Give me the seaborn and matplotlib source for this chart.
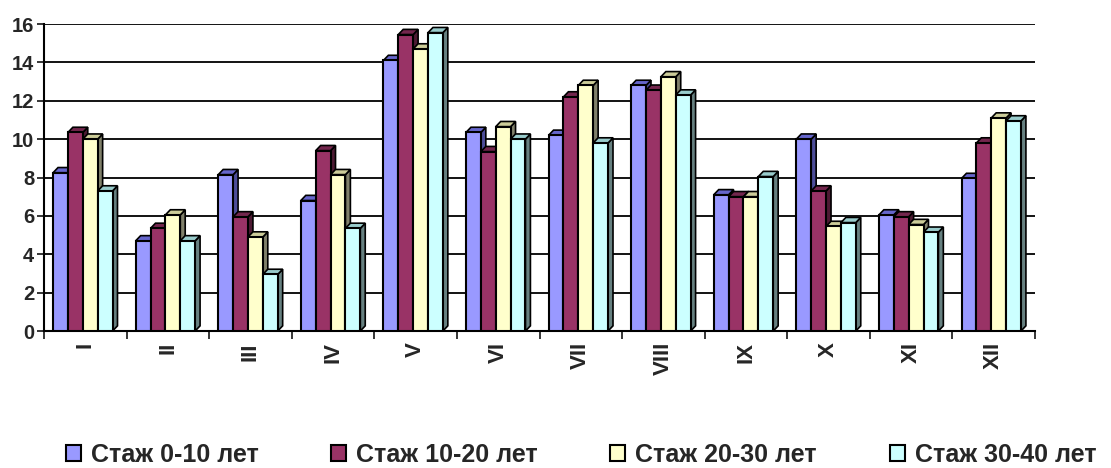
import seaborn as sns
import matplotlib.pyplot as plt
import pandas as pd
from matplotlib.patches import Polygon

# months (roman numerals) and work-experience groups
months = ['I', 'II', 'III', 'IV', 'V', 'VI', 'VII', 'VIII', 'IX', 'X', 'XI', 'XII']
series = ['Стаж 0-10 лет', 'Стаж 10-20 лет', 'Стаж 20-30 лет', 'Стаж 30-40 лет']

s0_10 = [8.25, 4.7, 8.15, 6.8, 14.1, 10.35, 10.2, 12.8, 7.1, 10.0, 6.05, 7.95]
s10_20 = [10.35, 5.35, 5.95, 9.4, 15.45, 9.35, 12.2, 12.55, 7.0, 7.3, 5.95, 9.8]
s20_30 = [10.0, 6.05, 4.9, 8.15, 14.7, 10.65, 12.8, 13.25, 7.0, 5.45, 5.55, 11.1]
s30_40 = [7.3, 4.7, 2.95, 5.35, 15.55, 10.0, 9.8, 12.3, 8.05, 5.65, 5.15, 10.95]

colors = ['#9999FF', '#993366', '#FFFFCC', '#CCFFFF']
side_colors = ['#4D4D99', '#4D1A33', '#80806A', '#668080']
top_colors = ['#6666CC', '#73264D', '#CCCC99', '#99CCCC']

df = pd.DataFrame({
    'month': months * 4,
    'series': sum([[s] * 12 for s in series], []),
    'value': s0_10 + s10_20 + s20_30 + s30_40,
})

sns.set_style('white')
plt.rcParams['font.family'] = ['Liberation Sans', 'DejaVu Sans']
plt.rcParams['font.weight'] = 'bold'

fig = plt.figure(figsize=(11.11, 4.68), dpi=100)
ax = fig.add_axes([0.0396, 0.2927, 0.892, 0.656])

sns.barplot(data=df, x='month', y='value', hue='series', palette=colors,
            width=0.72, edgecolor='black', linewidth=1.5, saturation=1,
            errorbar=None, ax=ax, zorder=3, legend=True)

# fake 3d depth on each bar
dx, dy = 0.06, 0.27
for i, cont in enumerate(ax.containers):
    for p in cont:
        x0 = p.get_x() - 0.03
        p.set_x(x0)
        x1 = x0 + p.get_width()
        h = p.get_height()
        side = Polygon([(x1, 0), (x1 + dx, dy), (x1 + dx, h + dy), (x1, h)],
                       closed=True, facecolor=side_colors[i], edgecolor='black',
                       linewidth=1.2, zorder=2)
        top = Polygon([(x0, h), (x0 + dx, h + dy), (x1 + dx, h + dy), (x1, h)],
                      closed=True, facecolor=top_colors[i], edgecolor='black',
                      linewidth=1.2, zorder=2)
        ax.add_patch(side)
        ax.add_patch(top)

ax.set_xlim(-0.5, 11.5)
ax.set_ylim(0, 16)
ax.set_yticks(range(0, 17, 2))
ax.yaxis.grid(True, color='black', linewidth=1.3, zorder=0)
ax.set_axisbelow(True)

ax.set_xticks([k - 0.5 for k in range(13)])
ax.set_xticklabels([])
ax.set_xticks(range(12), minor=True)
ax.set_xticklabels(months, minor=True, rotation=90, fontsize=16, fontweight='bold')
ax.tick_params(axis='x', which='major', length=6, width=1.3, direction='out', bottom=True)
ax.tick_params(axis='x', which='minor', length=0, pad=8)
ax.tick_params(axis='y', length=5, width=1.3, direction='out', left=True,
               labelsize=14.5, pad=2)
for lab in ax.get_yticklabels():
    lab.set_fontweight('bold')

ax.set_xlabel('')
ax.set_ylabel('')
for sp in ['top', 'right']:
    ax.spines[sp].set_visible(False)
for sp in ['left', 'bottom']:
    ax.spines[sp].set_color('black')
    ax.spines[sp].set_linewidth(1.5)

handles, labels = ax.get_legend_handles_labels()
ax.get_legend().remove()
fig.legend(handles, labels, loc='lower center', ncol=4, frameon=False,
           bbox_to_anchor=(0.523, -0.045), handlelength=0.6,
           handleheight=0.6, handletextpad=0.4, columnspacing=2.9,
           prop={'weight': 'bold', 'size': 18})

fig.savefig('out.png', dpi=100)
